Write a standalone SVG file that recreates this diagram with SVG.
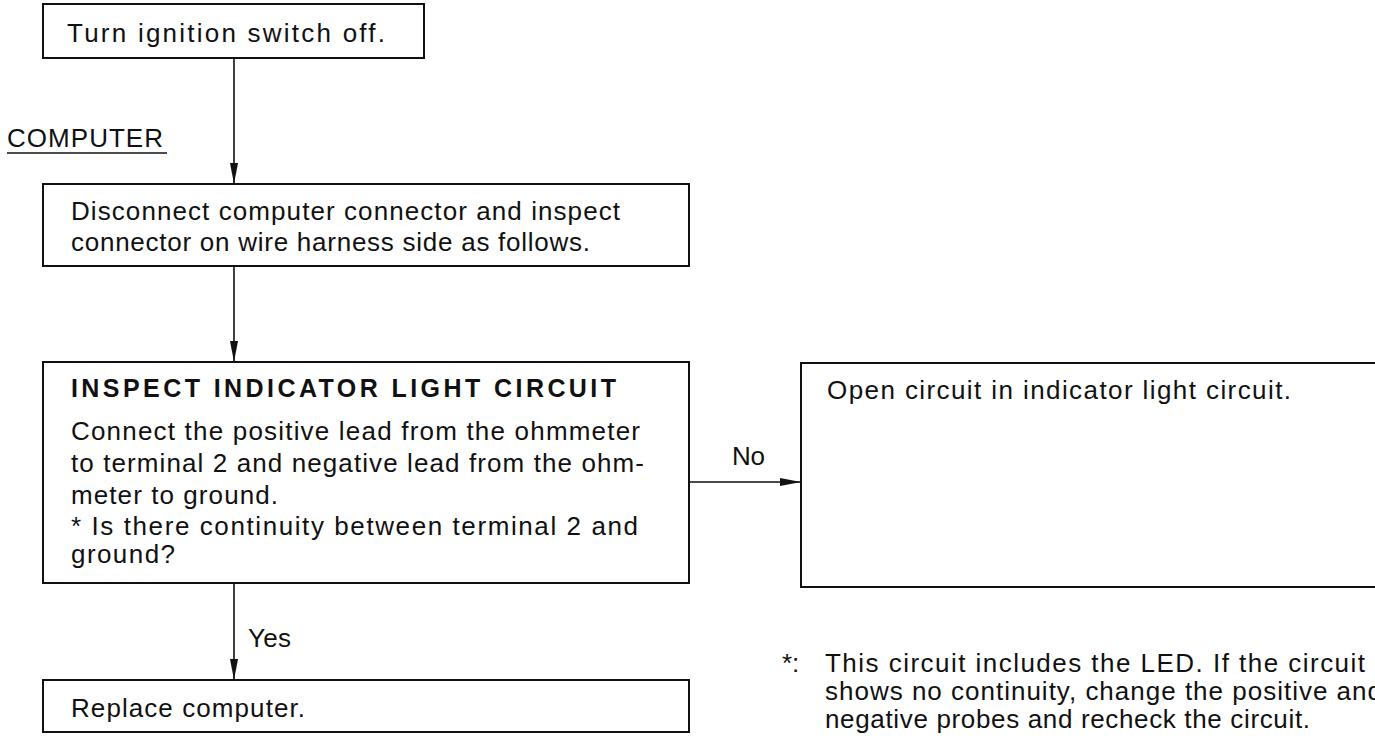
<svg xmlns="http://www.w3.org/2000/svg" width="1375" height="742" viewBox="0 0 1375 742">
  <style>
    .box { fill: #ffffff; stroke: #111111; stroke-width: 2; }
    .txt { font-family: "Liberation Sans", Arial, sans-serif; font-size: 26px; fill: #111111; }
    .ttl { font-family: "Liberation Sans", Arial, sans-serif; font-size: 25px; font-weight: bold; fill: #111111; }
    .conn { fill: none; stroke: #111111; stroke-width: 1.6; }
  </style>
  <defs>
    <marker id="arr" markerUnits="userSpaceOnUse" markerWidth="22" markerHeight="10" refX="21" refY="4" orient="auto">
      <path d="M0,0 L21,4 L0,8 Z" fill="#111111"/>
    </marker>
  </defs>
  <rect width="1375" height="742" fill="#ffffff"/>

  <g id="connectors">
    <line class="conn" x1="234" y1="58" x2="234" y2="184" marker-end="url(#arr)"/>
    <line class="conn" x1="234" y1="266" x2="234" y2="362" marker-end="url(#arr)"/>
    <line class="conn" x1="689" y1="482" x2="801" y2="482" marker-end="url(#arr)"/>
    <line class="conn" x1="234" y1="583" x2="234" y2="680" marker-end="url(#arr)"/>
    <text class="txt" x="732" y="465" textLength="33">No</text>
    <text class="txt" x="248" y="647" textLength="43">Yes</text>
  </g>

  <g id="label-computer">
    <text class="txt" x="7" y="147" textLength="156">COMPUTER</text>
    <line x1="7" y1="153" x2="167" y2="153" stroke="#111111" stroke-width="1.6"/>
  </g>

  <g id="node-ignition">
    <rect class="box" x="43" y="4" width="381" height="54"/>
    <text class="txt" x="67" y="42" textLength="318">Turn ignition switch off.</text>
  </g>

  <g id="node-disconnect">
    <rect class="box" x="43" y="184" width="646" height="82"/>
    <text class="txt" x="71" y="220" textLength="549">Disconnect computer connector and inspect</text>
    <text class="txt" x="71" y="251" textLength="519">connector on wire harness side as follows.</text>
  </g>

  <g id="node-inspect">
    <rect class="box" x="43" y="362" width="646" height="221"/>
    <text class="ttl" x="71" y="397" textLength="545">INSPECT INDICATOR LIGHT CIRCUIT</text>
    <text class="txt" x="71" y="440" textLength="569">Connect the positive lead from the ohmmeter</text>
    <text class="txt" x="71" y="472" textLength="573">to terminal 2 and negative lead from the ohm-</text>
    <text class="txt" x="71" y="504" textLength="207">meter to ground.</text>
    <text class="txt" x="71" y="535" textLength="567">* Is there continuity between terminal 2 and</text>
    <text class="txt" x="71" y="563" textLength="104">ground?</text>
  </g>

  <g id="node-open">
    <rect class="box" x="801" y="363" width="600" height="224"/>
    <text class="txt" x="827" y="399" textLength="464">Open circuit in indicator light circuit.</text>
  </g>

  <g id="node-replace">
    <rect class="box" x="43" y="680" width="646" height="52"/>
    <text class="txt" x="71" y="717" textLength="234">Replace computer.</text>
  </g>

  <g id="footnote">
    <text class="txt" x="782" y="672">*:</text>
    <text class="txt" x="825" y="672" textLength="540">This circuit includes the LED.  If the circuit</text>
    <text class="txt" x="825" y="700" textLength="557">shows no continuity, change the positive and</text>
    <text class="txt" x="825" y="728" textLength="485">negative probes and recheck the circuit.</text>
  </g>
</svg>
